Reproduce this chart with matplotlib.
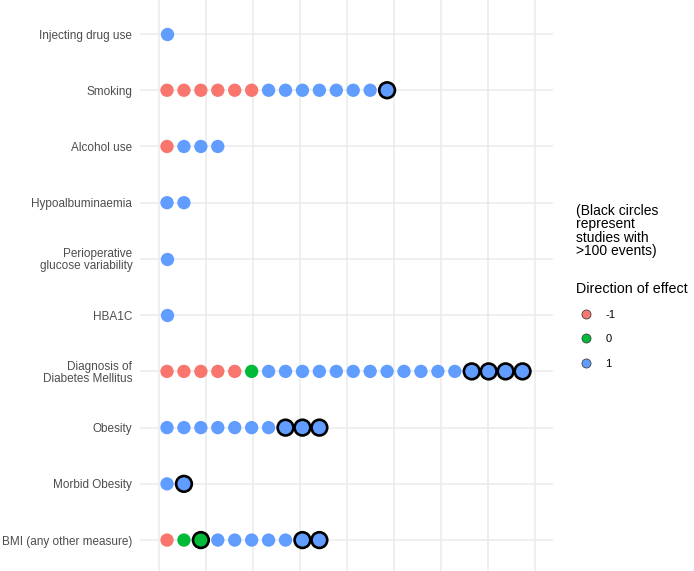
import matplotlib.pyplot as plt
import numpy as np
from matplotlib.lines import Line2D

plt.rcParams['font.family'] = ['Liberation Sans', 'DejaVu Sans']

# --- data: one entry per study, in drawing order ---
categories = [
    'Injecting drug use',
    'Smoking',
    'Alcohol use',
    'Hypoalbuminaemia',
    'Perioperative\nglucose variability',
    'HBA1C',
    'Diagnosis of\nDiabetes Mellitus',
    'Obesity',
    'Morbid Obesity',
    'BMI (any other measure)',
]

# direction of effect per study (-1, 0, 1)
direction = [
    [1],
    [-1] * 6 + [1] * 8,
    [-1, 1, 1, 1],
    [1, 1],
    [1],
    [1],
    [-1] * 5 + [0] + [1] * 16,
    [1] * 10,
    [1, 1],
    [-1, 0, 0, 1, 1, 1, 1, 1, 1, 1],
]

# study has >100 events (black circle)
large = [
    [0],
    [0] * 13 + [1],
    [0, 0, 0, 0],
    [0, 0],
    [0],
    [0],
    [0] * 18 + [1] * 4,
    [0] * 7 + [1] * 3,
    [0, 1],
    [0, 0, 1, 0, 0, 0, 0, 0, 1, 1],
]

effect_levels = [-1, 0, 1]
effect_colors = {-1: '#F8766D', 0: '#00BA38', 1: '#619CFF'}

fig = plt.figure(figsize=(6.94, 5.71), dpi=100)
ax = fig.add_axes([140 / 694, 0, 413 / 694, 1])

for row, (dirs, big) in enumerate(zip(direction, large)):
    xs = np.arange(1, len(dirs) + 1)
    ys = np.full(len(dirs), row)
    cols = [effect_colors[d] for d in dirs]
    sizes = [128 if b else 92 for b in big]
    edges = ['black' if b else 'none' for b in big]
    lws = [1.9 if b else 0 for b in big]
    ax.scatter(xs, ys, s=sizes, c=cols, edgecolors=edges, linewidths=lws,
               zorder=3, clip_on=False)

ax.set_yticks(range(len(categories)))
ax.set_yticklabels(categories, fontsize=8.5, color='#4D4D4D', linespacing=1.0)
ax.set_ylim(9.55, -0.605)
ax.set_xlim(-0.595, 23.80)
ax.set_xticks(np.linspace(0.527, 22.735, 9))
ax.set_xticklabels([])
ax.tick_params(length=0, pad=5.5)
ax.grid(True, color='#EBEBEB', linewidth=1.1)
ax.set_axisbelow(True)
for s in ax.spines.values():
    s.set_visible(False)

# legend
fig.text(576 / 694, 1 - 204 / 571,
         '(Black circles\nrepresent\nstudies with\n>100 events)',
         fontsize=10, va='top', ha='left', linespacing=0.95)
fig.text(576 / 694, 1 - 289 / 571, 'Direction of effect',
         fontsize=10.3, va='center', ha='left')
handles = [Line2D([], [], marker='o', linestyle='none', markersize=6.5,
                  markerfacecolor=effect_colors[v], markeredgecolor='#444444',
                  markeredgewidth=0.6, label=str(v)) for v in effect_levels]
leg = fig.legend(handles=handles,
                 loc='upper left', bbox_to_anchor=(572 / 694, 1 - 302 / 571),
                 frameon=False, fontsize=8,
                 handletextpad=1.1, labelspacing=1.3,
                 borderpad=0.2, handlelength=1.2)

fig.savefig('out.png', dpi=100)
